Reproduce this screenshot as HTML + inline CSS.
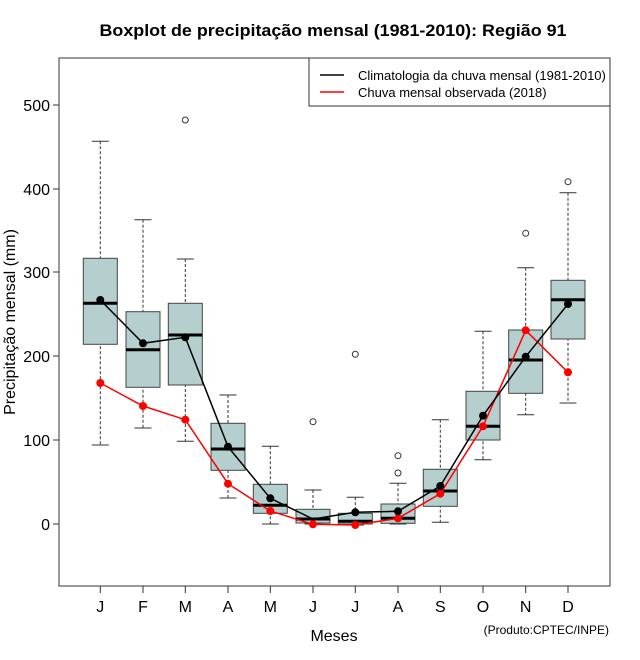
<!DOCTYPE html>
<html><head><meta charset="utf-8"><style>body{margin:0;background:#fff}svg{display:block}</style></head>
<body>
<svg width="640" height="660" xmlns="http://www.w3.org/2000/svg" font-family="Liberation Sans, sans-serif">
<rect width="640" height="660" fill="#fff"/>
<text x="333" y="36" font-size="17" font-weight="bold" text-anchor="middle" textLength="467" lengthAdjust="spacingAndGlyphs">Boxplot de precipitação mensal (1981-2010): Região 91</text>
<rect x="59" y="58" width="551" height="528" fill="none" stroke="#333" stroke-width="1"/>
<g stroke="#333">
<line x1="53" y1="105" x2="59" y2="105"/><line x1="53" y1="189" x2="59" y2="189"/><line x1="53" y1="272" x2="59" y2="272"/><line x1="53" y1="356" x2="59" y2="356"/><line x1="53" y1="440" x2="59" y2="440"/><line x1="53" y1="524" x2="59" y2="524"/>
</g>
<g font-size="16" text-anchor="end">
<text x="50" y="111">500</text><text x="50" y="195">400</text><text x="50" y="278">300</text><text x="50" y="362">200</text><text x="50" y="446">100</text><text x="50" y="530">0</text>
</g>
<text transform="translate(15,322) rotate(-90)" font-size="16" text-anchor="middle">Precipitação mensal (mm)</text>

<g stroke="#333" stroke-dasharray="3,2">
<line x1="100.3" y1="141.3" x2="100.3" y2="445"/>
<line x1="143" y1="219.7" x2="143" y2="428"/>
<line x1="185.3" y1="259" x2="185.3" y2="441.3"/>
<line x1="228" y1="395" x2="228" y2="498"/>
<line x1="270.3" y1="446.3" x2="270.3" y2="524"/>
<line x1="313" y1="490" x2="313" y2="524"/>
<line x1="355.3" y1="497.3" x2="355.3" y2="525"/>
<line x1="398" y1="483.3" x2="398" y2="524"/>
<line x1="440.3" y1="419.7" x2="440.3" y2="522.3"/>
<line x1="483" y1="331.3" x2="483" y2="459.7"/>
<line x1="525.7" y1="267.7" x2="525.7" y2="414.7"/>
<line x1="568" y1="192.7" x2="568" y2="403"/>
</g>
<g stroke="#333">
<path d="M91.8 141.3h17M91.8 445h17 M134.5 219.7h17M134.5 428h17 M176.8 259h17M176.8 441.3h17 M219.5 395h17M219.5 498h17 M261.8 446.3h17M261.8 524h17 M304.5 490h17M304.5 524h17 M346.8 497.3h17M346.8 525h17 M389.5 483.3h17M389.5 524h17 M431.8 419.7h17M431.8 522.3h17 M474.5 331.3h17M474.5 459.7h17 M517.2 267.7h17M517.2 414.7h17 M559.5 192.7h17M559.5 403h17"/>
</g>
<g fill="#b5cfcf" stroke="#444">
<rect x="83.3" y="258.3" width="34" height="86"/>
<rect x="126" y="311.7" width="34" height="75.6"/>
<rect x="168.3" y="303.3" width="34" height="81.7"/>
<rect x="211" y="423.3" width="34" height="47"/>
<rect x="253.3" y="484.3" width="34" height="29"/>
<rect x="296" y="509.3" width="34" height="13.7"/>
<rect x="338.3" y="513.3" width="34" height="10.7"/>
<rect x="381" y="504" width="34" height="19.3"/>
<rect x="423.3" y="469.3" width="34" height="37"/>
<rect x="466" y="391.3" width="34" height="48.7"/>
<rect x="508.7" y="330" width="34" height="63.3"/>
<rect x="551" y="280.3" width="34" height="58.7"/>
</g>
<g stroke="#000" stroke-width="3">
<path d="M83.3 303.3h34 M126 349.7h34 M168.3 335h34 M211 449h34 M253.3 505.3h34 M296 519h34 M338.3 521.3h34 M381 518.3h34 M423.3 491h34 M466 426.3h34 M508.7 360h34 M551 299.7h34"/>
</g>
<g fill="none" stroke="#333">
<circle cx="185.3" cy="120" r="3"/><circle cx="313" cy="421.7" r="3"/><circle cx="355.3" cy="354.3" r="3"/><circle cx="398" cy="455.7" r="3"/><circle cx="398" cy="473" r="3"/><circle cx="525.7" cy="233.3" r="3"/><circle cx="568" cy="181.7" r="3"/>
</g>
<polyline points="100.3,383 143,406 185.3,419.7 228,483.7 270.3,511 313,524.3 355.3,525 398,518.3 440.3,493.7 483,426.3 525.7,330.3 568,372.3" fill="none" stroke="#f00" stroke-width="1.5"/>
<polyline points="100.3,300 143,343.3 185.3,337.3 228,446.7 270.3,498.3 313,519 355.3,512.3 398,511.3 440.3,486 483,415.7 525.7,356.7 568,304" fill="none" stroke="#000" stroke-width="1.5"/>
<g fill="#f00">
<circle cx="100.3" cy="383" r="4"/><circle cx="143" cy="406" r="4"/><circle cx="185.3" cy="419.7" r="4"/><circle cx="228" cy="483.7" r="4"/><circle cx="270.3" cy="511" r="4"/><circle cx="313" cy="524.3" r="4"/><circle cx="355.3" cy="525" r="4"/><circle cx="398" cy="518.3" r="4"/><circle cx="440.3" cy="493.7" r="4"/><circle cx="483" cy="426.3" r="4"/><circle cx="525.7" cy="330.3" r="4"/><circle cx="568" cy="372.3" r="4"/>
</g>
<g fill="#000">
<circle cx="100.3" cy="300" r="4"/><circle cx="143" cy="343.3" r="4"/><circle cx="185.3" cy="337.3" r="4"/><circle cx="228" cy="446.7" r="4"/><circle cx="270.3" cy="498.3" r="4"/><circle cx="355.3" cy="512.3" r="4"/><circle cx="398" cy="511.3" r="4"/><circle cx="440.3" cy="486" r="4"/><circle cx="483" cy="415.7" r="4"/><circle cx="525.7" cy="356.7" r="4"/><circle cx="568" cy="304" r="4"/>
</g>
<g stroke="#333">
<path d="M100.3 586v7M143 586v7M185.3 586v7M228 586v7M270.3 586v7M313 586v7M355.3 586v7M398 586v7M440.3 586v7M483 586v7M525.7 586v7M568 586v7"/>
</g>
<g font-size="16" text-anchor="middle">
<text x="100.3" y="612">J</text><text x="143" y="612">F</text><text x="185.3" y="612">M</text><text x="228" y="612">A</text><text x="270.3" y="612">M</text><text x="313" y="612">J</text><text x="355.3" y="612">J</text><text x="398" y="612">A</text><text x="440.3" y="612">S</text><text x="483" y="612">O</text><text x="525.7" y="612">N</text><text x="568" y="612">D</text>
</g>
<rect x="309" y="58" width="301" height="48" fill="#fff" stroke="#333"/>
<line x1="320" y1="75" x2="344" y2="75" stroke="#000" stroke-width="1.5"/>
<line x1="320" y1="92" x2="344" y2="92" stroke="#f00" stroke-width="1.5"/>
<text x="358" y="80" font-size="13">Climatologia da chuva mensal (1981-2010)</text>
<text x="358" y="97" font-size="13">Chuva mensal observada (2018)</text>
<text x="334" y="641" font-size="16" text-anchor="middle">Meses</text>
<text x="609" y="634" font-size="12" text-anchor="end">(Produto:CPTEC/INPE)</text>
</svg>
</body></html>
